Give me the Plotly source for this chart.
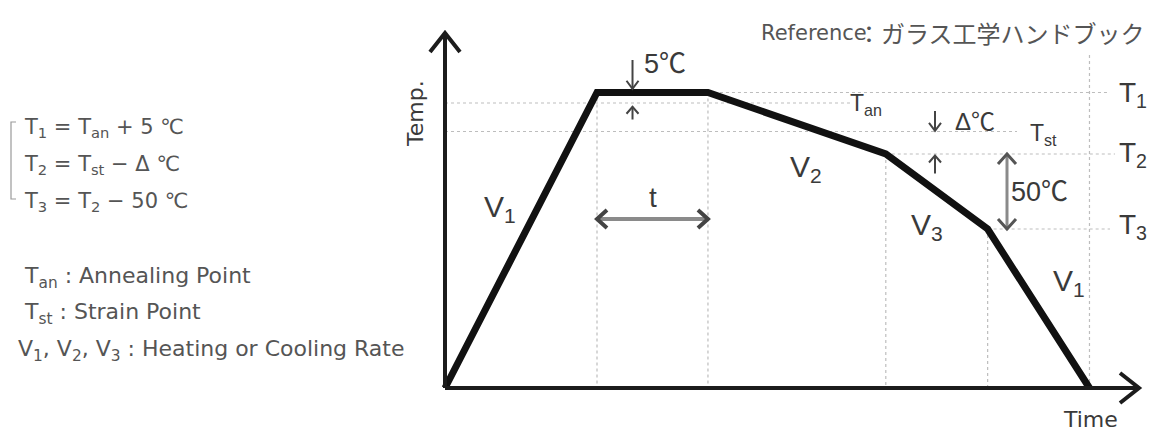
import plotly.graph_objects as go

# ---------------- data (annealing schedule) ----------------
phase_time = [0, 100, 173, 290, 357, 424]          # breakpoints of the schedule (time units)
T1, T_an, T_st, T2, T3 = 197, 190, 171, 156, 106     # temperature levels (relative, degC)
profile_temp = [0, T1, T1, T2, T3, 0]
level_labels = ["T<sub>1</sub>", "T<sub>2</sub>", "T<sub>3</sub>"]
level_values = [T1, T2, T3]
rate_labels = ["V<sub>1</sub>", "V<sub>2</sub>", "V<sub>3</sub>", "V<sub>1</sub>"]
legend_lines = [
    "T<sub>1</sub> = T<sub>an</sub> + 5 ℃",
    "T<sub>2</sub> = T<sub>st</sub> − Δ ℃",
    "T<sub>3</sub> = T<sub>2</sub> − 50 ℃",
]
note_lines = [
    "T<sub>an</sub> : Annealing Point",
    "T<sub>st</sub> : Strain Point",
    "V<sub>1</sub>, V<sub>2</sub>, V<sub>3</sub> : Heating or Cooling Rate",
]
source_latin = "Reference"
source_cjk = "：ガラス工学ハンドブック"

# ---------------- layout geometry ----------------
W, H = 1152, 431
X0, Y0 = 445, 388      # pixel of origin
KX, KY = 1.52, 1.5     # pixels per unit

def px(t): return X0 + t * KX
def py(T): return Y0 - T * KY
def dx(p): return (p - X0) / KX
def dy(p): return (Y0 - p) / KY

AX_COL = "#1c1c1c"
TXT = "#3a3a3a"
TXT2 = "#555555"
GUIDE = "#bdbdbd"
FONT = "Liberation Sans, Noto Sans CJK JP, DejaVu Sans"
FONT_W = "DejaVu Sans, Noto Sans CJK JP"

fig = go.Figure()

def seg_trace(xs, ys, color, width, dash="solid"):
    fig.add_trace(go.Scatter(x=xs, y=ys, mode="lines",
                             line=dict(color=color, width=width, dash=dash),
                             hoverinfo="skip", showlegend=False))

def head(x0, y0, x1, y1, hw, hl, color, width):
    P0x, P0y, P1x, P1y = px(x0), py(y0), px(x1), py(y1)
    L = ((P1x - P0x) ** 2 + (P1y - P0y) ** 2) ** 0.5
    ux, uy = (P1x - P0x) / L, (P1y - P0y) / L
    nx, ny = -uy, ux
    pts = [(P1x - ux * hl + nx * hw, P1y - uy * hl + ny * hw),
           (P1x, P1y),
           (P1x - ux * hl - nx * hw, P1y - uy * hl - ny * hw)]
    seg_trace([dx(p[0]) for p in pts], [dy(p[1]) for p in pts], color, width)

def arrow(x0, y0, x1, y1, color, width, hw, hl, both=False, head_col=None):
    seg_trace([x0, x1], [y0, y1], color, width)
    hc = head_col or color
    head(x0, y0, x1, y1, hw, hl, hc, width)
    if both:
        head(x1, y1, x0, y0, hw, hl, hc, width)

t = phase_time
# guide lines (dotted)
gx, gy = [], []
def g(xa, ya, xb, yb):
    gx.extend([xa, xb, None]); gy.extend([ya, yb, None])
g(t[1], T1, t[1], 0)
g(t[2], T1, t[2], 0)
g(t[3], T2, t[3], 0)
g(t[4], T3, t[4], 0)
g(t[5], dy(55), t[5], 0)
g(t[2], T1, dx(1110), T1)
g(0, T_an, dx(850), T_an)
g(0, T_st, dx(1017), T_st)
g(t[3], T2, dx(1115), T2)
g(t[4], T3, dx(1110), T3)
seg_trace(gx, gy, GUIDE, 1.2, "dot")

# temperature profile
seg_trace(t, profile_temp, "#111111", 7)

# axes with open arrow heads
arrow(0, 0, 0, dy(33), AX_COL, 4, 15, 19)
arrow(0, 0, dx(1139), 0, AX_COL, 4, 15, 19)

# small dimension arrows
xa5 = t[1] + 0.32 * (t[2] - t[1])
arrow(xa5, dy(60), xa5, T1 + 2.5, "#444444", 2, 6, 8)
arrow(xa5, T_an - 11, xa5, T_an - 2.5, "#444444", 2, 6, 7)
xd = dx(935)
arrow(xd, dy(111), xd, T_st + 0.4, "#444444", 2, 6, 8)
arrow(xd, T2 - 13, xd, T2 - 1, "#444444", 2, 6, 7)
x50 = dx(1007)
arrow(x50, T2, x50, T3, "#8a8a8a", 3, 9, 10, both=True, head_col="#555555")
yt = dy(219)
arrow(t[1], yt, t[2], yt, "#8a8a8a", 4, 9, 10, both=True, head_col="#444444")

ann = []
def lab(text, x, y, size, color=TXT, xa="center", ya="middle", angle=0, family=FONT):
    ann.append(dict(text=text, x=x / W, y=1 - y / H, xref="paper", yref="paper",
                    xanchor=xa, yanchor=ya, showarrow=False, textangle=angle,
                    font=dict(size=size, color=color, family=family)))

# level labels on the right
for lbl, val, off in zip(level_labels, level_values, [2, 0, -2]):
    lab(lbl, 1117, py(val) + off, 28, xa="left")
lab("T<sub>an</sub>", 848, 104, 23, xa="left")
lab("T<sub>st</sub>", 1028, 135, 23, xa="left")

# rate labels
for lbl, (cx, cy) in zip(rate_labels, [(500, 209), (806, 168), (927, 227), (1069, 282)]):
    lab(lbl, cx, cy, 30)

lab("5℃", 642, 64, 27, xa="left")
lab("Δ℃", 953, 121, 24, xa="left")
lab("50℃", 1009, 192, 27, xa="left")
lab("t", 653, 198, 28)
lab("Temp.", 415, 114, 22, angle=-90, family=FONT_W)
lab("Time", 1090, 419, 22, family=FONT_W)
lab(source_cjk, 1147, 33, 24, color=TXT2, xa="right", family="Noto Sans CJK JP")
lab(source_latin, 869, 33, 21, color=TXT2, xa="right", family=FONT_W)

for i, s in enumerate(legend_lines):
    lab(s, 22, 128 + 37 * i, 21, color=TXT2, xa="left", family=FONT_W)
for i, s in enumerate(note_lines):
    lab(s, 22 if i < 2 else 16, 277 + 36.5 * i, 22, color=TXT2, xa="left", family=FONT_W)

shapes = [dict(type="path", xref="paper", yref="paper",
               path=f"M {16/W},{1-122/H} L {11/W},{1-122/H} L {11/W},{1-199/H} L {16/W},{1-199/H}",
               line=dict(color="#9a9a9a", width=1.2))]

fig.update_layout(
    width=W, height=H, autosize=False,
    margin=dict(l=0, r=0, t=0, b=0),
    paper_bgcolor="white", plot_bgcolor="white",
    xaxis=dict(range=[dx(0), dx(W)], visible=False, fixedrange=True),
    yaxis=dict(range=[dy(H), dy(0)], visible=False, fixedrange=True),
    annotations=ann, shapes=shapes, hovermode=False, showlegend=False,
)
fig.write_html("out.html", config={"displayModeBar": False, "staticPlot": True},
               post_script="document.body.style.margin='0';document.body.style.overflow='hidden';")
